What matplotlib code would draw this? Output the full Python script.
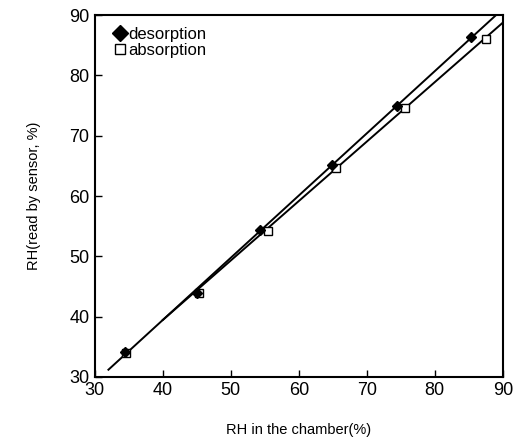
import numpy as np
import matplotlib
matplotlib.use('Agg')
import matplotlib.pyplot as plt

plt.rcParams['font.family'] = ['Liberation Sans', 'DejaVu Sans']

# desorption (filled diamonds)
des_x = [34.4, 45.0, 54.3, 64.9, 74.4, 85.4]
des_y = [34.1, 43.9, 54.4, 65.1, 74.9, 86.4]

# absorption (open squares)
abs_x = [34.6, 45.3, 55.4, 65.4, 75.6, 87.5]
abs_y = [34.0, 43.9, 54.2, 64.7, 74.6, 86.1]

fig = plt.figure(figsize=(5.21, 4.47), dpi=100)
ax = fig.add_axes([0.182, 0.157, 0.783, 0.809])

# fitted lines, the absorption one branches off the desorption one
b1, a1 = np.polyfit(des_x, des_y, 1)
xx1 = np.array([32.0, 90.0])
ax.plot(xx1, a1 + b1 * xx1, color='black', lw=1.4, zorder=2)
b2, a2 = np.polyfit(abs_x, abs_y, 1)
x0 = 40.0
xx2 = np.array([x0, 90.0])
yy2 = a2 + b2 * xx2
yy2[0] = a1 + b1 * x0  # join the upper line at the start
ax.plot(xx2, yy2, color='black', lw=1.4, zorder=2)

ax.plot(abs_x, abs_y, 's', ms=5.5, mfc='white', mec='black', mew=1.0,
        ls='none', label='absorption', zorder=3)
ax.plot(des_x, des_y, 'D', ms=5.5, mfc='black', mec='black',
        ls='none', label='desorption', zorder=4)

ax.set_xlim(30, 90)
ax.set_ylim(30, 90)
ax.set_xticks(range(30, 91, 10))
ax.set_yticks(range(30, 91, 10))
ax.tick_params(direction='in', length=5, width=1, labelsize=13, pad=4)
for s in ax.spines.values():
    s.set_linewidth(1.5)

ax.set_xlabel('RH in the chamber(%)', fontsize=10.5, labelpad=17)
ax.set_ylabel('RH(read by sensor, %)', fontsize=10.5, labelpad=20)

h, l = ax.get_legend_handles_labels()
ax.legend(h[::-1], l[::-1], loc='upper left', frameon=False, fontsize=12,
          handlelength=0.6, handletextpad=0.2, borderaxespad=0.3,
          labelspacing=0.05, markerscale=1.4, bbox_to_anchor=(0.02, 1.0))

fig.savefig('out.png', dpi=100)
